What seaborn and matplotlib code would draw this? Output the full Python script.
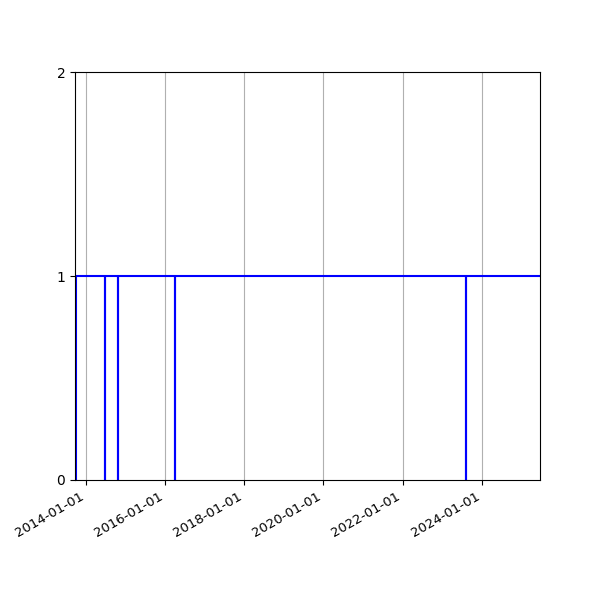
import pandas as pd
import matplotlib
matplotlib.use('Agg')
import matplotlib.pyplot as plt
import matplotlib.dates as mdates
import seaborn as sns

# step series: drops to 0 for a day at a few dates
dates = ['2013-09-22', '2013-10-01',
         '2014-06-25', '2014-06-26',
         '2014-10-23', '2014-10-24',
         '2016-04-02', '2016-04-03',
         '2023-08-04', '2023-08-05',
         '2025-06-20']
values = [0, 1, 0, 1, 0, 1, 0, 1, 0, 1, 1]

df = pd.DataFrame({'date': pd.to_datetime(dates), 'value': values})

fig, ax = plt.subplots(figsize=(6, 6), dpi=100)
sns.lineplot(data=df, x='date', y='value', ax=ax, color='blue',
             linewidth=1.5, drawstyle='steps-post')

ax.set_xlim(df['date'].min(), df['date'].max())
ax.set_ylim(0, 2)
ax.set_yticks([0, 1, 2])
ax.xaxis.set_major_locator(mdates.YearLocator(2))
ax.xaxis.set_major_formatter(mdates.DateFormatter('%Y-%m-%d'))
ax.tick_params(axis='x', labelsize=9.5)
ax.grid(axis='x')
ax.set_xlabel('')
ax.set_ylabel('')
fig.autofmt_xdate()

fig.savefig('out.png')
